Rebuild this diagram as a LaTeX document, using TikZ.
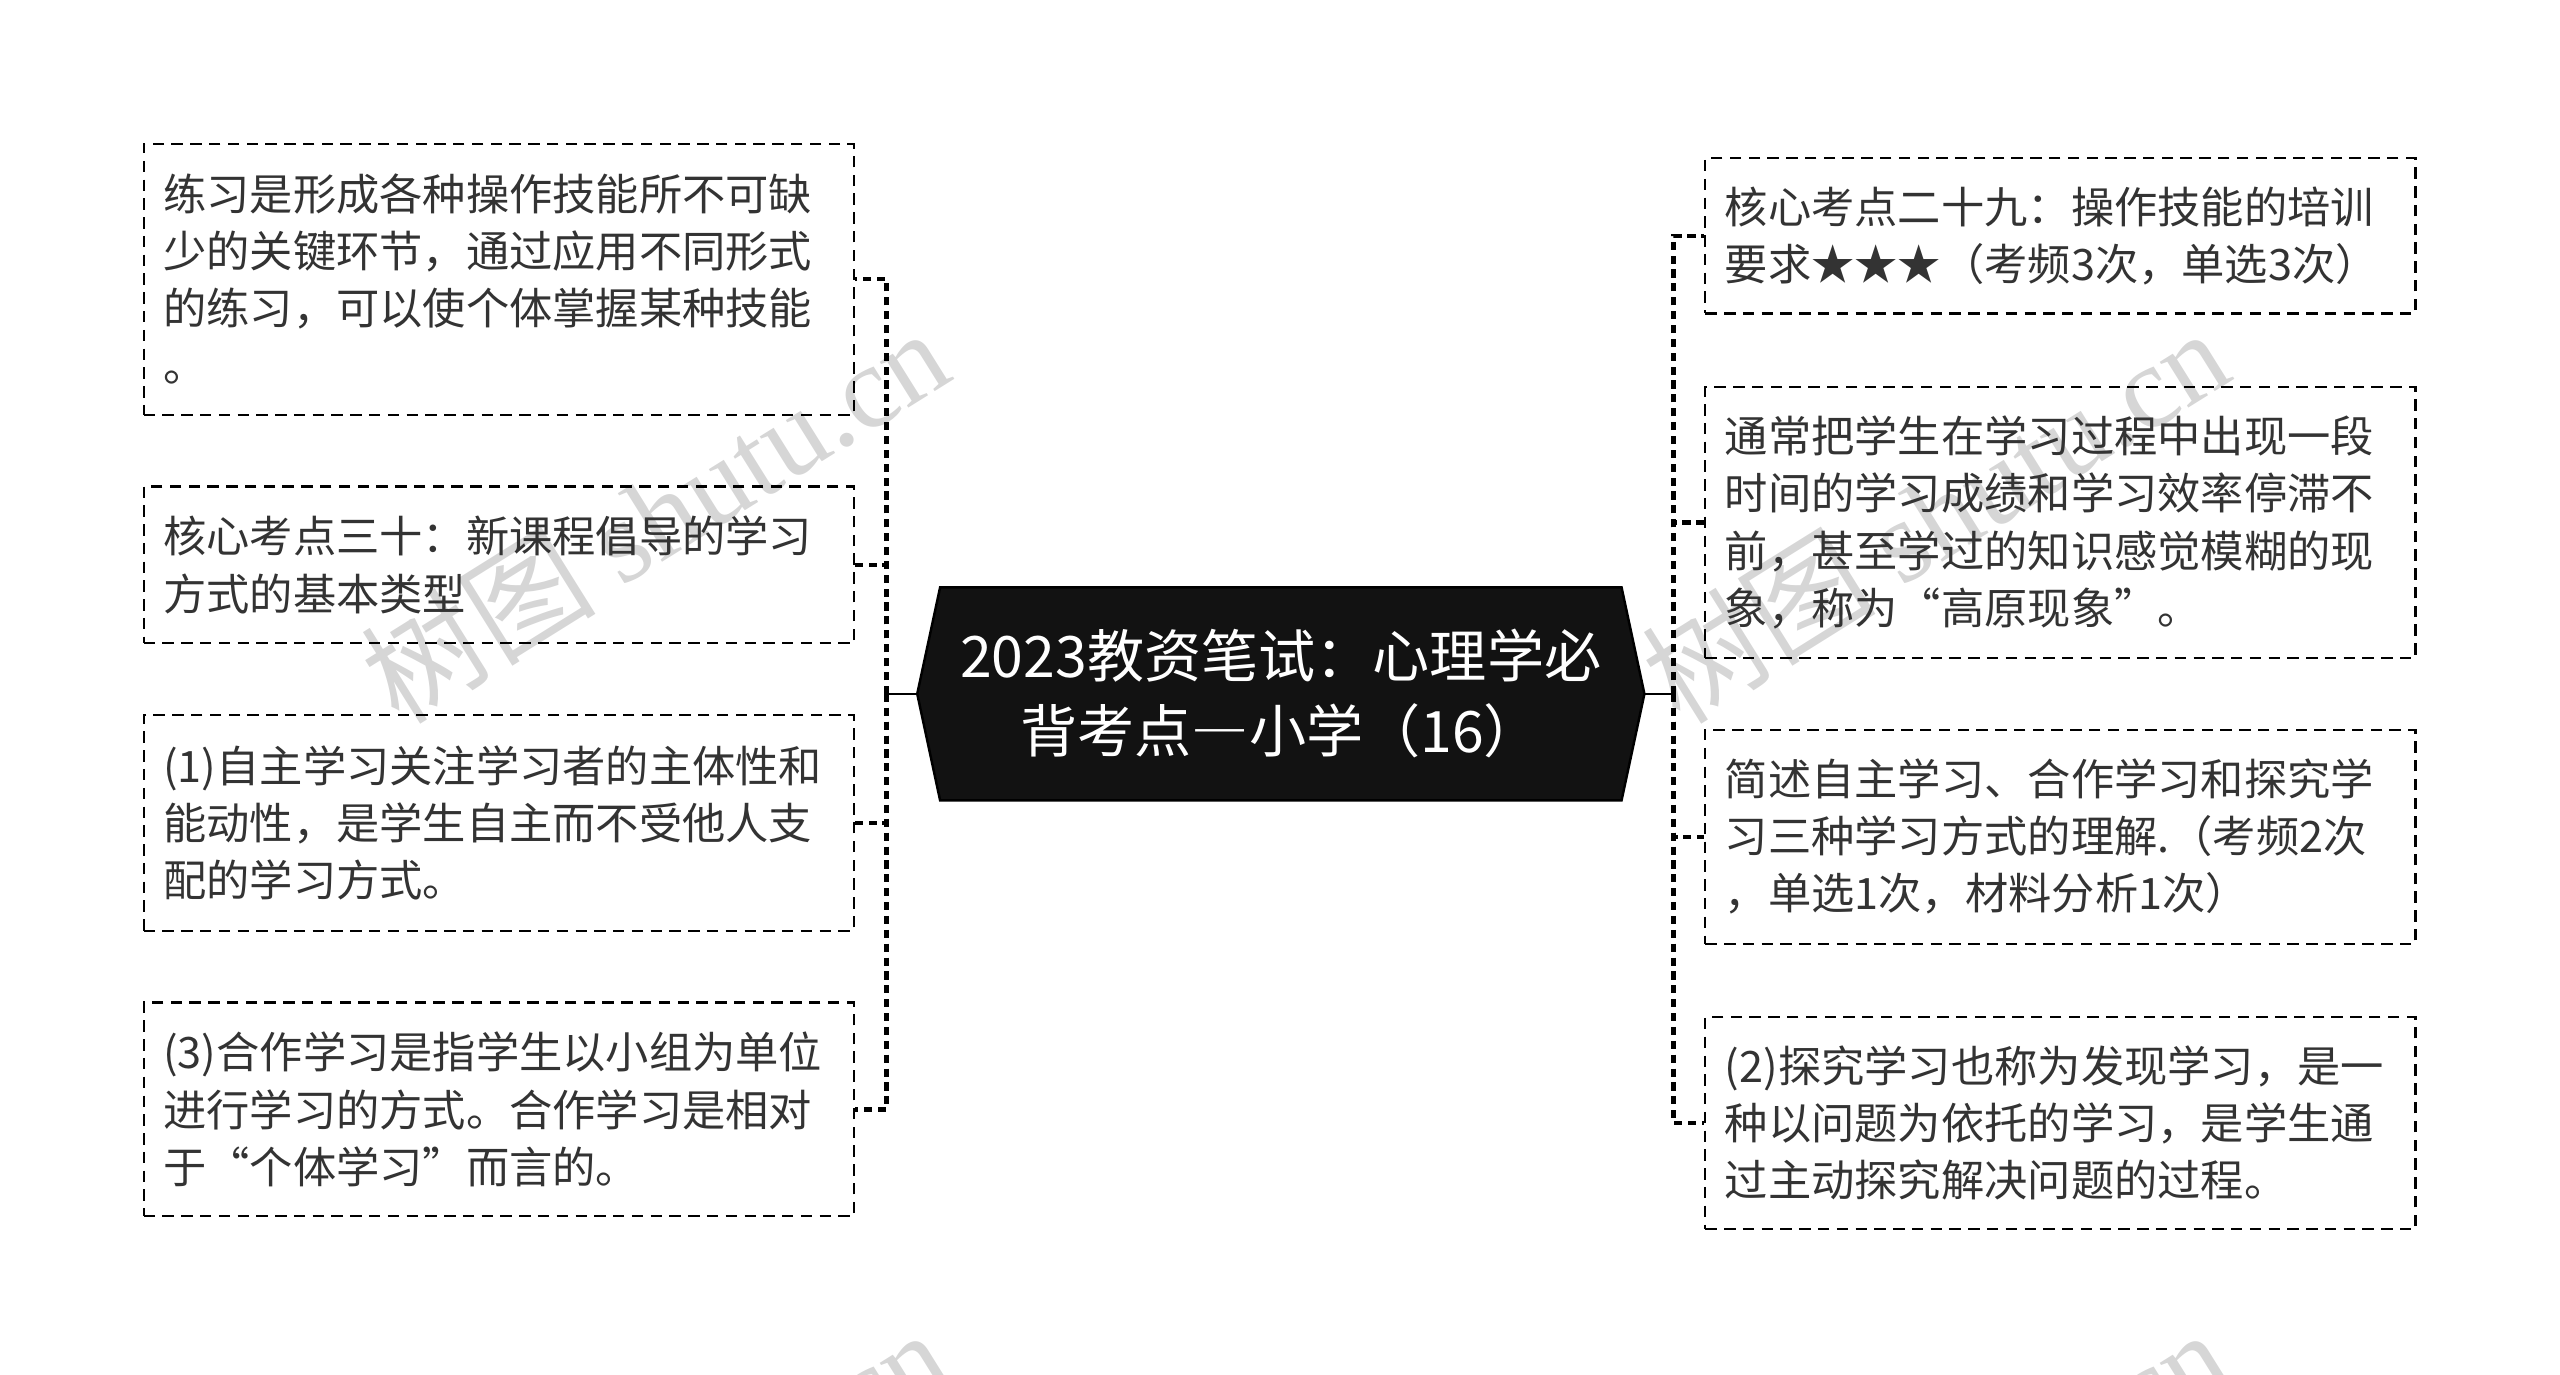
\documentclass[tikz,border=0pt]{standalone}
\usepackage{fontspec}
\setmainfont{Noto Sans CJK SC}
\newfontfamily\wmfont{Liberation Serif}
\usepackage{xcolor}
\usetikzlibrary{calc}
\pgfdeclarelayer{background}
\pgfsetlayers{background,main}
\definecolor{txtgray}{HTML}{333333}
\definecolor{markgray}{HTML}{D6D6D6}

\begin{document}
\begin{tikzpicture}[x=1pt,y=-1pt]
        \tikzstyle{every node}=[inner sep=0pt]
        \tikzstyle{leaf}=[draw=black, line width=1.3pt, dash pattern=on 7pt off 4.5pt, minimum width=435pt, text width=411pt, inner xsep=12pt, align=left, text=txtgray, font=\fontsize{26.5}{35}\selectfont]
        \tikzstyle{branch}=[line width=2.6pt, dash pattern=on 5pt off 3.5pt]
        \tikzstyle{wmark}=[text=markgray, rotate=32, font=\fontsize{72}{72}\selectfont]
        \useasboundingbox (0,0) rectangle (1568,842);

        % watermarks
        \begin{scope}
        \clip (0,0) rectangle (1568,842);
        \node[wmark] (w1) at (401,315) {树图 {\wmfont shutu.cn}};
        \node[wmark] (w2) at (1185,315) {树图 {\wmfont shutu.cn}};
        \node[wmark] (w3) at (401,928) {树图 {\wmfont shutu.cn}};
        \node[wmark] (w4) at (1185,928) {树图 {\wmfont shutu.cn}};
        \end{scope}

        \node[minimum width=445pt, minimum height=130pt, text=white, align=center, font=\fontsize{35}{46}\selectfont] (0) at (784.5,425) {2023教资笔试：心理学必\\背考点―小学（16）};
        \begin{pgfonlayer}{background}
        \fill[black!93, draw=black, line width=1.5pt] (0.west) -- ($(0.north west)+(14,0)$) -- ($(0.north east)+(-14,0)$) -- (0.east) -- ($(0.south east)+(-14,0)$) -- ($(0.south west)+(14,0)$) -- cycle;
        \end{pgfonlayer}

        \node[leaf, minimum height=166pt] (11) at (305.5,171) {练习是形成各种操作技能所不可缺\\少的关键环节，通过应用不同形式\\的练习，可以使个体掌握某种技能\\。};
        \node[leaf, minimum height=96pt] (12) at (305.5,346) {核心考点三十：新课程倡导的学习\\方式的基本类型};
        \node[leaf, minimum height=132pt] (13) at (305.5,504) {(1)自主学习关注学习者的主体性和\\能动性，是学生自主而不受他人支\\配的学习方式。};
        \node[leaf, minimum height=131pt] (14) at (305.5,679.5) {(3)合作学习是指学生以小组为单位\\进行学习的方式。合作学习是相对\\于“个体学习”而言的。};

        \node[leaf, minimum height=95pt] (21) at (1262,144.5) {核心考点二十九：操作技能的培训\\要求★★★（考频3次，单选3次）};
        \node[leaf, minimum height=166pt] (22) at (1262,320) {通常把学生在学习过程中出现一段\\时间的学习成绩和学习效率停滞不\\前，甚至学过的知识感觉模糊的现\\象，称为“高原现象”。};
        \node[leaf, minimum height=131pt] (23) at (1262,512.5) {简述自主学习、合作学习和探究学\\习三种学习方式的理解.（考频2次\\，单选1次，材料分析1次）};
        \node[leaf, minimum height=130pt] (24) at (1262,688) {(2)探究学习也称为发现学习，是一\\种以问题为依托的学习，是学生通\\过主动探究解决问题的过程。};

        \coordinate (10) at (543,425);
        \coordinate (20) at (1025,425);
        \draw[line width=1.6pt] (0.west) -- (10);
        \draw[line width=1.6pt] (0.east) -- (20);
        \foreach \n in {11,...,14}
            \draw[branch] (10) |- (\n.east);
        \foreach \n in {21,...,24}
            \draw[branch] (20) |- (\n.west);
\end{tikzpicture}
\end{document}
